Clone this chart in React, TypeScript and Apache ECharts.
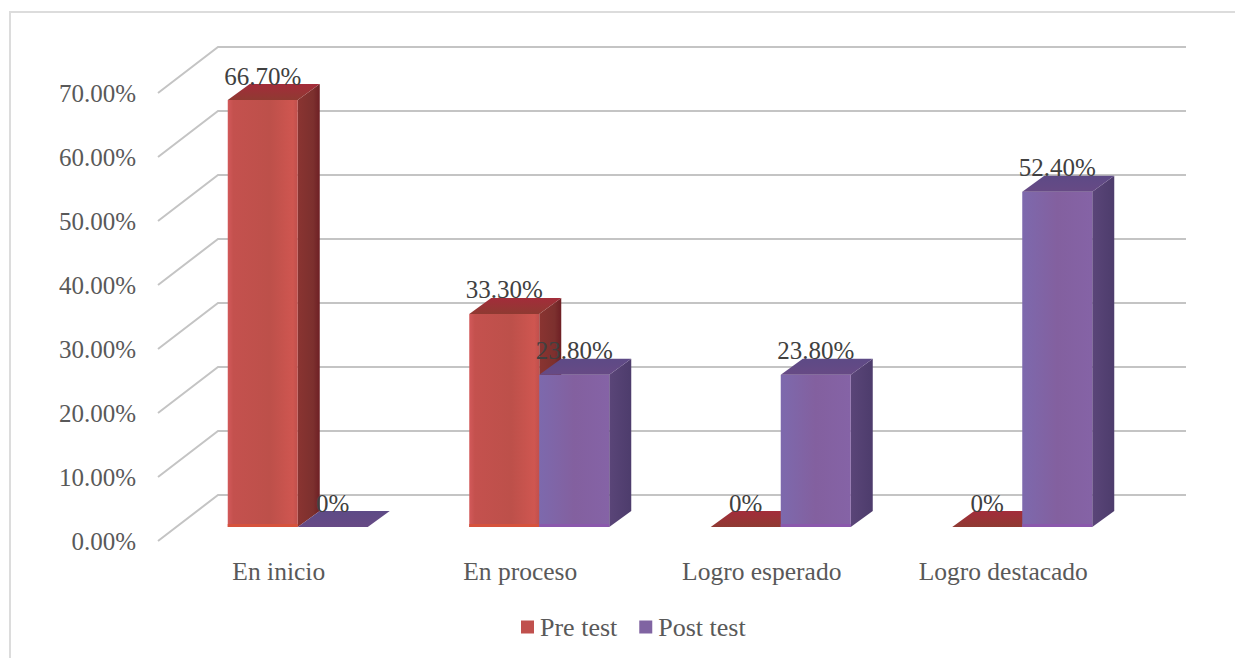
import React, { useEffect, useRef } from "react";
import * as echarts from "echarts";

const categories = ["En inicio", "En proceso", "Logro esperado", "Logro destacado"];
const preTest = [66.7, 33.3, 0, 0];
const postTest = [0, 23.8, 23.8, 52.4];
const preLabels = ["66.70%", "33.30%", "0%", "0%"];
const postLabels = ["0%", "23.80%", "23.80%", "52.40%"];
const gridTicks = [0, 10, 20, 30, 40, 50, 60, 70];

const FONT = "'Liberation Serif', serif";
const FRONT = [19, -14];
const DEPTH = [22, -16];
const BACK = [60, -46];
const BAR = 70;

const lg = (stops: [number, string][], vertical = false) =>
  new echarts.graphic.LinearGradient(0, 0, vertical ? 0 : 1, vertical ? 1 : 0,
    stops.map(([offset, color]) => ({ offset, color })));

function barRenderer(side: number, labels: string[], c: { front: any; side: any; top: any; bottom: string }) {
  return (params: any, api: any) => {
    const i = api.value(0);
    const base = api.coord([i, 0]);
    const topP = api.coord([i, api.value(1)]);
    const x0 = base[0] + FRONT[0] + (side === 0 ? -BAR : 0);
    const x1 = x0 + BAR;
    const yb = base[1] + FRONT[1];
    const yt = topP[1] + FRONT[1];
    const children: any[] = [];
    if (yb - yt > 0.5) {
      children.push({ type: "polygon", shape: { points: [[x1, yt], [x1 + DEPTH[0], yt + DEPTH[1]], [x1 + DEPTH[0], yb + DEPTH[1]], [x1, yb]] }, style: { fill: c.side } });
      children.push({ type: "rect", shape: { x: x0, y: yt, width: BAR, height: yb - yt }, style: { fill: c.front } });
      children.push({ type: "rect", shape: { x: x0, y: yb - 3, width: BAR, height: 3 }, style: { fill: c.bottom } });
    }
    children.push({ type: "polygon", shape: { points: [[x0, yt], [x0 + DEPTH[0], yt + DEPTH[1]], [x1 + DEPTH[0], yt + DEPTH[1]], [x1, yt]] }, style: { fill: c.top } });
    children.push({
      type: "text", z2: 100,
      style: { text: labels[i], x: x0 + BAR / 2, y: yt - 24, align: "center", verticalAlign: "middle", font: `25px ${FONT}`, fill: "#404040" },
    });
    return { type: "group", children };
  };
}

export default function App() {
  const ref = useRef<HTMLDivElement>(null);
  useEffect(() => {
    const chart = echarts.init(ref.current!, null, { renderer: "svg" });
    const gridRender = (params: any, api: any) => {
      const v = api.value(0);
      const y = api.coord([0, v])[1];
      const cs = params.coordSys;
      const points = [[cs.x, y], [cs.x + BACK[0], y + BACK[1]], [cs.x + cs.width + BACK[0] + 2, y + BACK[1]]];
      return { type: "polyline", shape: { points }, style: { fill: "none", stroke: "#c4c4c4", lineWidth: 2 } };
    };
    chart.setOption({
      animation: false,
      backgroundColor: "#ffffff",
      textStyle: { fontFamily: FONT },
      graphic: [{ type: "polyline", silent: true, z: -10, shape: { points: [[10, 660], [10, 12], [1237, 12]] }, style: { fill: "none", stroke: "#dcdcdc", lineWidth: 2 } }],
      grid: { left: 158, top: 93, width: 966, height: 448 },
      xAxis: {
        type: "category", data: categories,
        axisLine: { show: false }, axisTick: { show: false }, splitLine: { show: false },
        axisLabel: { color: "#595959", fontFamily: FONT, fontSize: 25.5, margin: 17, interval: 0 },
      },
      yAxis: {
        type: "value", min: 0, max: 70, interval: 10,
        axisLine: { show: false }, axisTick: { show: false }, splitLine: { show: false },
        axisLabel: { color: "#595959", fontFamily: FONT, fontSize: 25, margin: 22, formatter: (v: number) => v.toFixed(2) + "%" },
      },
      legend: {
        left: 521, top: 614, padding: 0, itemWidth: 13, itemHeight: 13, itemGap: 22,
        textStyle: { color: "#595959", fontFamily: FONT, fontSize: 26, padding: [0, 0, 0, 1] },
        data: [
          { name: "Pre test", icon: "rect", itemStyle: { color: "#c0504d" } },
          { name: "Post test", icon: "rect", itemStyle: { color: "#8064a2" } },
        ],
      },
      series: [
        { type: "custom", name: "grid", renderItem: gridRender, data: gridTicks.map((v) => [v]), encode: { y: 0 }, silent: true, z: 1 },
        {
          type: "custom", name: "Pre test", z: 2, itemStyle: { color: "#c0504d" },
          encode: { x: 0, y: 1 },
          data: preTest.map((v, i) => [i, v]),
          renderItem: barRenderer(0, preLabels, {
            front: lg([[0, "#d2595a"], [0.08, "#c4514e"], [0.6, "#bd504a"], [0.93, "#cf5650"], [1, "#c0504d"]]),
            side: lg([[0, "#8a3431"], [0.7, "#7c302e"], [1, "#6e1f24"]]),
            top: lg([[0, "#a32c3a"], [1, "#8f3a32"]], true),
            bottom: "#d6523c",
          }),
        },
        {
          type: "custom", name: "Post test", z: 3, itemStyle: { color: "#8064a2" },
          encode: { x: 0, y: 1 },
          data: postTest.map((v, i) => [i, v]),
          renderItem: barRenderer(1, postLabels, {
            front: lg([[0, "#7d69ad"], [0.5, "#83609f"], [1, "#8563a6"]]),
            side: lg([[0, "#5a4578"], [1, "#4d3c6c"]]),
            top: lg([[0, "#5d4a86"], [1, "#674a85"]], true),
            bottom: "#8a58ac",
          }),
        },
      ],
    });
    return () => chart.dispose();
  }, []);
  return <div ref={ref} style={{ position: "fixed", left: 0, top: 0, width: 1235, height: 658 }} />;
}
